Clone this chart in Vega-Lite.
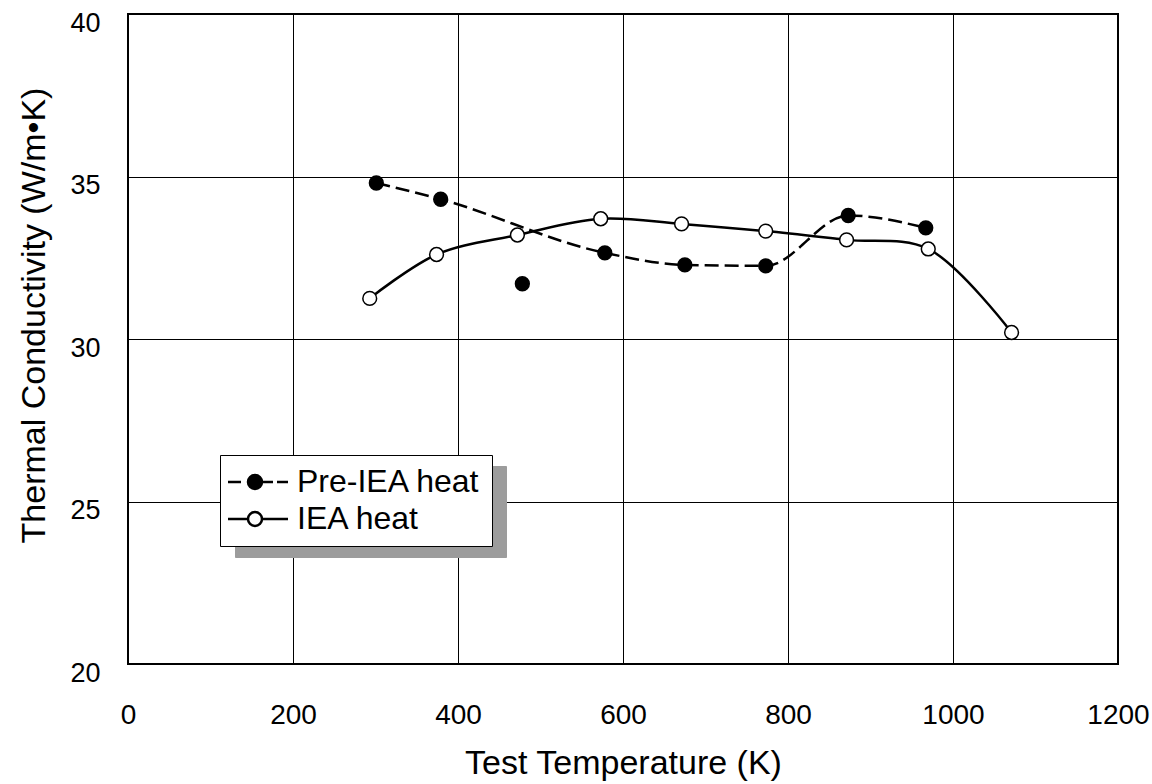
{
  "$schema": "https://vega.github.io/schema/vega-lite/v6.json",
  "width": 990,
  "height": 650,
  "autosize": {"type": "none"},
  "padding": {"left": 128, "top": 14, "right": 34, "bottom": 120},
  "background": "white",
  "config": {
    "font": "Liberation Sans",
    "view": {"stroke": "black", "strokeWidth": 2},
    "axis": {
      "grid": true,
      "gridColor": "black",
      "gridOpacity": 1,
      "gridWidth": 1,
      "domain": false,
      "ticks": false,
      "labelColor": "black",
      "titleColor": "black",
      "labelFont": "Liberation Sans",
      "titleFont": "Liberation Sans",
      "titleFontWeight": "normal",
      "labelFlush": false,
      "labelOverlap": false
    },
    "legend": {"labelFont": "Liberation Sans", "labelColor": "black", "labelLimit": 500}
  },
  "data": {
    "values": [
      {"series": "Pre-IEA heat", "T": 301, "k": 34.8, "onCurve": true},
      {"series": "Pre-IEA heat", "T": 379, "k": 34.3, "onCurve": true},
      {"series": "Pre-IEA heat", "T": 478, "k": 31.7, "onCurve": false},
      {"series": "Pre-IEA heat", "T": 578, "k": 32.65, "onCurve": true},
      {"series": "Pre-IEA heat", "T": 675, "k": 32.28, "onCurve": true},
      {"series": "Pre-IEA heat", "T": 773, "k": 32.25, "onCurve": true},
      {"series": "Pre-IEA heat", "T": 873, "k": 33.8, "onCurve": true},
      {"series": "Pre-IEA heat", "T": 967, "k": 33.42, "onCurve": true},
      {"series": "IEA heat", "T": 293, "k": 31.25, "onCurve": true},
      {"series": "IEA heat", "T": 374, "k": 32.6, "onCurve": true},
      {"series": "IEA heat", "T": 472, "k": 33.2, "onCurve": true},
      {"series": "IEA heat", "T": 573, "k": 33.7, "onCurve": true},
      {"series": "IEA heat", "T": 671, "k": 33.54, "onCurve": true},
      {"series": "IEA heat", "T": 773, "k": 33.32, "onCurve": true},
      {"series": "IEA heat", "T": 871, "k": 33.05, "onCurve": true},
      {"series": "IEA heat", "T": 970, "k": 32.77, "onCurve": true},
      {"series": "IEA heat", "T": 1071, "k": 30.2, "onCurve": true}
    ]
  },
  "layer": [
    {
      "transform": [{"filter": "datum.onCurve && datum.series == 'Pre-IEA heat'"}],
      "mark": {"type": "line", "interpolate": "monotone", "color": "black", "strokeWidth": 2.5, "strokeDash": [14, 6]},
      "encoding": {
        "x": {
          "field": "T",
          "type": "quantitative",
          "scale": {"domain": [0, 1200], "nice": false},
          "axis": {
            "title": "Test Temperature (K)",
            "values": [0, 200, 400, 600, 800, 1000, 1200],
            "format": "d",
            "labelFontSize": 28,
            "labelPadding": 37,
            "titleFontSize": 34,
            "titlePadding": 17
          }
        },
        "y": {
          "field": "k",
          "type": "quantitative",
          "scale": {"domain": [20, 40], "nice": false, "zero": false},
          "axis": {
            "title": "Thermal Conductivity (W/m•K)",
            "values": [20, 25, 30, 35, 40],
            "labelFontSize": 27,
            "labelPadding": 28,
            "labelOffset": 9,
            "titleFontSize": 34,
            "titlePadding": 18,
            "titleY": 301
          }
        }
      }
    },
    {
      "transform": [{"filter": "datum.series == 'IEA heat'"}],
      "mark": {"type": "line", "interpolate": "catmull-rom", "color": "black", "strokeWidth": 2.5},
      "encoding": {
        "x": {"field": "T", "type": "quantitative"},
        "y": {"field": "k", "type": "quantitative"}
      }
    },
    {
      "mark": {"type": "circle", "size": 190, "stroke": "black", "strokeWidth": 1.5, "opacity": 1},
      "encoding": {
        "x": {"field": "T", "type": "quantitative"},
        "y": {"field": "k", "type": "quantitative"},
        "fill": {
          "field": "series",
          "type": "nominal",
          "scale": {"domain": ["Pre-IEA heat", "IEA heat"], "range": ["black", "white"]},
          "legend": {
            "title": null,
            "orient": "none",
            "legendX": 92,
            "legendY": 441,
            "strokeColor": "black",
            "fillColor": "white",
            "padding": 11,
            "labelFontSize": 32,
            "labelOffset": 34,
            "labelLimit": 500,
            "symbolSize": 576,
            "symbolStrokeWidth": 2.5,
            "symbolStrokeColor": "black",
            "rowPadding": 5,
            "zindex": 1
          }
        }
      }
    },
    {
      "transform": [{"filter": "false"}],
      "mark": {"type": "point", "filled": true, "stroke": "black", "strokeWidth": 2.5},
      "encoding": {
        "x": {"field": "T", "type": "quantitative"},
        "y": {"field": "k", "type": "quantitative"},
        "shape": {
          "field": "series",
          "type": "nominal",
          "scale": {
            "domain": ["Pre-IEA heat", "IEA heat"],
            "range": [
              "M-1.583,0L-0.5,0M1.333,0L2.167,0M2.5,0L3.417,0M0.083,0A0.583,0.583,0,1,0,1.25,0A0.583,0.583,0,1,0,0.083,0Z",
              "M-1.583,0L0.083,0M1.25,0L3.417,0M0.083,0A0.583,0.583,0,1,0,1.25,0A0.583,0.583,0,1,0,0.083,0Z"
            ]
          },
          "legend": {
            "title": null,
            "orient": "none",
            "legendX": 92,
            "legendY": 441,
            "strokeColor": "black",
            "fillColor": "white",
            "padding": 11,
            "labelFontSize": 32,
            "labelOffset": 34,
            "labelLimit": 500,
            "symbolSize": 576,
            "symbolStrokeWidth": 2.5,
            "symbolStrokeColor": "black",
            "rowPadding": 5,
            "zindex": 1
          }
        },
        "color": {
          "field": "series",
          "type": "nominal",
          "scale": {"domain": ["IEA heat", "Pre-IEA heat"], "range": ["#9c9c9c", "#9c9c9c"]},
          "legend": {
            "title": null,
            "orient": "bottom-left",
            "offset": 107,
            "strokeColor": "#9c9c9c",
            "fillColor": "#9c9c9c",
            "padding": 11,
            "labelFontSize": 32,
            "labelExpr": "''",
            "labelOffset": 217,
            "symbolOpacity": 0,
            "symbolSize": 576,
            "symbolStrokeWidth": 2.5,
            "rowPadding": 5,
            "zindex": 0
          }
        }
      }
    }
  ]
}
